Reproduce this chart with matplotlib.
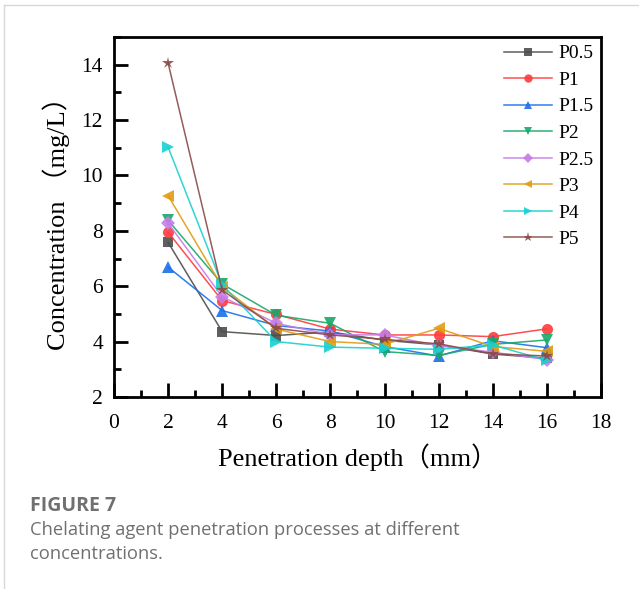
import numpy as np
import matplotlib
matplotlib.use("Agg")
import matplotlib.pyplot as plt
from matplotlib.ticker import MultipleLocator

# Penetration depth (mm) and concentration (mg/L) per chelating agent dose
depth = [2, 4, 6, 8, 10, 12, 14, 16]
labels = ["P0.5", "P1", "P1.5", "P2", "P2.5", "P3", "P4", "P5"]
p05 = [7.58, 4.36, 4.22, 4.35, 4.05, 3.88, 3.55, 3.40]
p1 = [7.95, 5.48, 4.98, 4.45, 4.24, 4.24, 4.18, 4.46]
p15 = [6.69, 5.12, 4.58, 4.38, 3.82, 3.48, 4.03, 3.78]
p2 = [8.38, 6.08, 4.95, 4.66, 3.64, 3.50, 3.90, 4.06]
p25 = [8.28, 5.62, 4.66, 4.25, 4.24, 3.85, 3.62, 3.35]
p3 = [9.27, 5.98, 4.45, 4.00, 3.90, 4.48, 3.82, 3.65]
p4 = [11.02, 6.05, 4.00, 3.80, 3.76, 3.72, 3.88, 3.32]
p5 = [14.06, 5.86, 4.48, 4.24, 4.08, 3.92, 3.56, 3.48]
series = [p05, p1, p15, p2, p25, p3, p4, p5]

colors = ["#4d4d4d", "#ff3b3b", "#1a6fe8", "#17a86a",
          "#c77ce8", "#e09c10", "#18d0d0", "#8b4a4a"]
markers = ["s", "o", "^", "v", "D", "<", ">", "*"]
msizes = [7, 8, 8, 8, 7, 8, 8, 9]

serif = ["Liberation Serif", "Noto Sans CJK SC"]

fig = plt.figure(figsize=(6.39, 5.89), dpi=100)
ax = fig.add_axes([0.1784, 0.326, 0.762, 0.6112])

for ys, c, m, ms, lab in zip(series, colors, markers, msizes, labels):
    ax.plot(depth, ys, color=c, marker=m, markersize=ms, linewidth=1.1,
            alpha=0.9, markeredgewidth=0, label=lab)

ax.set_xlim(0, 18)
ax.set_ylim(2, 15)
ax.xaxis.set_major_locator(MultipleLocator(2))
ax.xaxis.set_minor_locator(MultipleLocator(1))
ax.yaxis.set_major_locator(MultipleLocator(2))
ax.yaxis.set_minor_locator(MultipleLocator(1))
ax.set_yticks(range(2, 15, 2))

for sp in ax.spines.values():
    sp.set_linewidth(2)
ax.tick_params(which="both", direction="in", top=False, right=False, width=2)
ax.tick_params(which="major", length=10, labelsize=15.5)
ax.tick_params(axis="x", which="major", pad=12)
ax.tick_params(axis="y", which="major", pad=8)
ax.tick_params(which="minor", length=5)
for t in ax.get_xticklabels() + ax.get_yticklabels():
    t.set_family(serif)

ax.set_xlabel("Penetration depth（mm）", family=serif, fontsize=19, labelpad=8)
ax.set_ylabel("Concentration （mg/L）", family=serif, fontsize=19, labelpad=8)

leg = ax.legend(loc="upper right", frameon=False,
                prop={"family": serif, "size": 14}, handlelength=2.5,
                handletextpad=0.3, labelspacing=0.46, markerscale=0.75,
                borderaxespad=0.0)

# caption block and page border
cap = "#707070"
fig.text(0.047, 1 - 506 / 589, "FIGURE 7", fontsize=14, fontweight="bold",
         color=cap, family="Open Sans", va="center")
fig.text(0.047, 1 - 530 / 589, "Chelating agent penetration processes at different",
         fontsize=13.2, color=cap, family="Open Sans", va="center")
fig.text(0.047, 1 - 554 / 589, "concentrations.",
         fontsize=13.2, color=cap, family="Open Sans", va="center")
fig.add_artist(plt.Line2D([0.007, 0.007], [0, 0.992], color="#d8d8d8",
                          linewidth=1, transform=fig.transFigure))
fig.add_artist(plt.Line2D([0.007, 1], [0.992, 0.992], color="#d8d8d8",
                          linewidth=1, transform=fig.transFigure))

fig.savefig("out.png", dpi=100)
